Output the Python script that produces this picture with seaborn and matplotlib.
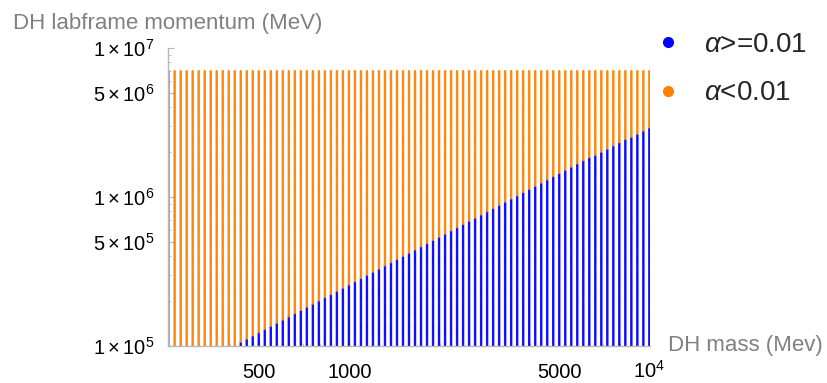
import numpy as np
import pandas as pd
import matplotlib
matplotlib.use("Agg")
import matplotlib.pyplot as plt
from matplotlib.lines import Line2D
from matplotlib.ticker import FixedLocator, LogLocator, NullFormatter
import seaborn as sns

# ---- data ----
mass_min, mass_max, n_mass = 250.0, 10000.0, 81          # scanned DH masses (MeV)
mom_min, mom_max, n_mom = 1.0e5, 7.0e6, 260             # scanned lab-frame momenta (MeV)
# boundary between the two classes, read at a few masses
boundary_mass = [430.0, 1470.0, 5010.0, 10000.0]
boundary_mom = [1.05e5, 3.9e5, 1.45e6, 2.9e6]
class_labels = [r"$\alpha$>=0.01", r"$\alpha$<0.01"]
class_colors = ["#0000ff", "#ff8000"]
x_ticks = [500, 1000, 5000, 10000]
x_ticklabels = ["500", "1000", "5000", r"$10^{4}$"]
y_ticks = [1e5, 5e5, 1e6, 5e6, 1e7]
y_ticklabels = [r"$1\times10^{5}$", r"$5\times10^{5}$", r"$1\times10^{6}$",
                r"$5\times10^{6}$", r"$1\times10^{7}$"]

masses = np.geomspace(mass_min, mass_max, n_mass)
moms = np.geomspace(mom_min, mom_max, n_mom)
M, P = np.meshgrid(masses, moms)
M = M.ravel(); P = P.ravel()
thr = 10 ** np.interp(np.log10(M), np.log10(boundary_mass), np.log10(boundary_mom),
                      left=-np.inf)
cls = np.where(P <= thr, class_labels[0], class_labels[1])
df = pd.DataFrame({"mass": M, "momentum": P, "cls": cls})

sns.set_theme(style="white")
plt.rcParams["font.family"] = ["Liberation Sans", "DejaVu Sans"]
plt.rcParams["mathtext.fontset"] = "custom"
plt.rcParams["mathtext.rm"] = "Liberation Sans"
plt.rcParams["mathtext.it"] = "Liberation Sans:italic"

fig = plt.figure(figsize=(8.27, 3.83), dpi=100)
ax = fig.add_axes([168 / 827, 1 - 346 / 383, (650 - 168) / 827, (346 - 48) / 383])

sns.scatterplot(data=df, x="mass", y="momentum", hue="cls",
                hue_order=class_labels[::-1],
                palette=dict(zip(class_labels, class_colors)),
                s=3.2, linewidth=0, alpha=0.78, legend=False, ax=ax)

ax.set_xscale("log")
ax.set_yscale("log")
ax.set_xlim(mass_min * 0.995, mass_max * 1.005)
ax.set_ylim(1e5, 1e7)

ax.xaxis.set_major_locator(FixedLocator(x_ticks))
ax.set_xticklabels(x_ticklabels)
ax.xaxis.set_minor_formatter(NullFormatter())
ax.yaxis.set_major_locator(FixedLocator(y_ticks))
ax.set_yticklabels(y_ticklabels)
ax.yaxis.set_minor_locator(LogLocator(base=10, subs=np.arange(2, 10)))
ax.yaxis.set_minor_formatter(NullFormatter())

for s in ["top", "right"]:
    ax.spines[s].set_visible(False)
for s in ["left", "bottom"]:
    ax.spines[s].set_color("#b8b8b8")
    ax.spines[s].set_linewidth(1.0)

ax.tick_params(axis="both", which="major", direction="in", length=4, width=0.8,
               color="#b8b8b8", labelcolor="black", left=True, bottom=True)
ax.tick_params(axis="both", which="minor", direction="in", length=2.5, width=0.6,
               color="#b8b8b8", left=True, bottom=True)
ax.tick_params(axis="x", which="major", pad=23, labelsize=14.5)
ax.tick_params(axis="y", which="major", pad=10, labelsize=14.5)
for lab in ax.get_xticklabels():
    lab.set_verticalalignment("baseline")

ax.set_xlabel("")
ax.set_ylabel("")
fig.text(668 / 827, 1 - 346 / 383, "DH mass (Mev)", color="#808080", fontsize=16,
         ha="left", va="center")
fig.text(13 / 827, 1 - 24 / 383, "DH labframe momentum (MeV)", color="#808080",
         fontsize=16, ha="left", va="center")

handles = [Line2D([], [], marker="o", linestyle="", color=c, markersize=7)
           for c in class_colors]
fig.legend(handles, class_labels, loc="upper left", bbox_to_anchor=(622 / 827, 1 - 7 / 383),
           frameon=False, fontsize=20, handletextpad=0.55, labelspacing=0.8,
           handlelength=1.5)

fig.savefig("out.png", dpi=100)
